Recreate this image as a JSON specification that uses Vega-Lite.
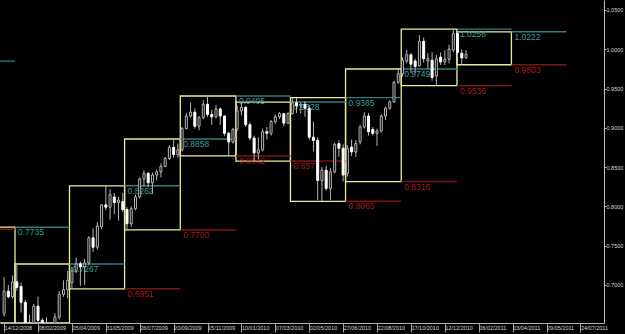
{
  "$schema": "https://vega.github.io/schema/vega-lite/v6.json",
  "width": 604,
  "height": 323,
  "autosize": {"type": "none"},
  "padding": {"left": 0, "top": 0, "right": 21, "bottom": 11},
  "background": "#000000",
  "config": {"view": {"stroke": null}, "font": "Liberation Sans", "axis": {"labelOverlap": false}},
  "datasets": {
    "candles": [
      {"d": "2008-12-14", "o": 0.6640, "h": 0.7100, "l": 0.6600, "c": 0.6920},
      {"d": "2008-12-21", "o": 0.6920, "h": 0.7000, "l": 0.6830, "c": 0.6850},
      {"d": "2008-12-28", "o": 0.6850, "h": 0.7120, "l": 0.6830, "c": 0.7040},
      {"d": "2009-01-04", "o": 0.7040, "h": 0.7267, "l": 0.6930, "c": 0.6970},
      {"d": "2009-01-11", "o": 0.6980, "h": 0.7030, "l": 0.6650, "c": 0.6780},
      {"d": "2009-01-18", "o": 0.6780, "h": 0.6810, "l": 0.6350, "c": 0.6460},
      {"d": "2009-01-25", "o": 0.6460, "h": 0.6620, "l": 0.6320, "c": 0.6380},
      {"d": "2009-02-01", "o": 0.6380, "h": 0.6760, "l": 0.6340, "c": 0.6730},
      {"d": "2009-02-08", "o": 0.6730, "h": 0.6850, "l": 0.6480, "c": 0.6550},
      {"d": "2009-02-15", "o": 0.6550, "h": 0.6580, "l": 0.6330, "c": 0.6400},
      {"d": "2009-02-22", "o": 0.6400, "h": 0.6590, "l": 0.6300, "c": 0.6420},
      {"d": "2009-03-01", "o": 0.6420, "h": 0.6480, "l": 0.6250, "c": 0.6460},
      {"d": "2009-03-08", "o": 0.6460, "h": 0.6640, "l": 0.6350, "c": 0.6590},
      {"d": "2009-03-15", "o": 0.6590, "h": 0.6920, "l": 0.6560, "c": 0.6880},
      {"d": "2009-03-22", "o": 0.6880, "h": 0.7060, "l": 0.6850, "c": 0.6940},
      {"d": "2009-03-29", "o": 0.6940, "h": 0.7180, "l": 0.6830, "c": 0.7060},
      {"d": "2009-04-05", "o": 0.7030, "h": 0.7230, "l": 0.6951, "c": 0.7180},
      {"d": "2009-04-12", "o": 0.7180, "h": 0.7350, "l": 0.7150, "c": 0.7270},
      {"d": "2009-04-19", "o": 0.7270, "h": 0.7300, "l": 0.6990, "c": 0.7230},
      {"d": "2009-04-26", "o": 0.7230, "h": 0.7330, "l": 0.7000, "c": 0.7280},
      {"d": "2009-05-03", "o": 0.7280, "h": 0.7620, "l": 0.7250, "c": 0.7600},
      {"d": "2009-05-10", "o": 0.7600, "h": 0.7720, "l": 0.7420, "c": 0.7480},
      {"d": "2009-05-17", "o": 0.7480, "h": 0.7800, "l": 0.7450, "c": 0.7750},
      {"d": "2009-05-24", "o": 0.7740, "h": 0.8030, "l": 0.7710, "c": 0.8020},
      {"d": "2009-05-31", "o": 0.8020, "h": 0.8262, "l": 0.7950, "c": 0.7990},
      {"d": "2009-06-07", "o": 0.7990, "h": 0.8220, "l": 0.7830, "c": 0.8150},
      {"d": "2009-06-14", "o": 0.8120, "h": 0.8170, "l": 0.7900, "c": 0.8050},
      {"d": "2009-06-21", "o": 0.8050, "h": 0.8120, "l": 0.7820, "c": 0.8080},
      {"d": "2009-06-28", "o": 0.8060, "h": 0.8170, "l": 0.7930, "c": 0.7960},
      {"d": "2009-07-05", "o": 0.7960, "h": 0.7990, "l": 0.7700, "c": 0.7780},
      {"d": "2009-07-12", "o": 0.7780, "h": 0.8000, "l": 0.7740, "c": 0.7970},
      {"d": "2009-07-19", "o": 0.7970, "h": 0.8150, "l": 0.7950, "c": 0.8120},
      {"d": "2009-07-26", "o": 0.8120, "h": 0.8370, "l": 0.8100, "c": 0.8350},
      {"d": "2009-08-02", "o": 0.8350, "h": 0.8460, "l": 0.8250, "c": 0.8420},
      {"d": "2009-08-09", "o": 0.8420, "h": 0.8440, "l": 0.8240, "c": 0.8300},
      {"d": "2009-08-16", "o": 0.8300, "h": 0.8430, "l": 0.8160, "c": 0.8400},
      {"d": "2009-08-23", "o": 0.8400, "h": 0.8470, "l": 0.8330, "c": 0.8440},
      {"d": "2009-08-30", "o": 0.8440, "h": 0.8550, "l": 0.8370, "c": 0.8510},
      {"d": "2009-09-06", "o": 0.8510, "h": 0.8630, "l": 0.8500, "c": 0.8610},
      {"d": "2009-09-13", "o": 0.8610, "h": 0.8780, "l": 0.8590, "c": 0.8750},
      {"d": "2009-09-20", "o": 0.8750, "h": 0.8858, "l": 0.8620, "c": 0.8660},
      {"d": "2009-09-27", "o": 0.8660, "h": 0.8800, "l": 0.8620, "c": 0.8720},
      {"d": "2009-10-04", "o": 0.8720, "h": 0.9010, "l": 0.8700, "c": 0.8990},
      {"d": "2009-10-11", "o": 0.8990, "h": 0.9190, "l": 0.8980, "c": 0.9150},
      {"d": "2009-10-18", "o": 0.9150, "h": 0.9320, "l": 0.9130, "c": 0.9200},
      {"d": "2009-10-25", "o": 0.9200, "h": 0.9250, "l": 0.8990, "c": 0.9020},
      {"d": "2009-11-01", "o": 0.9020, "h": 0.9150, "l": 0.8970, "c": 0.9130},
      {"d": "2009-11-08", "o": 0.9130, "h": 0.9350, "l": 0.9110, "c": 0.9300},
      {"d": "2009-11-15", "o": 0.9300, "h": 0.9405, "l": 0.9140, "c": 0.9170},
      {"d": "2009-11-22", "o": 0.9170, "h": 0.9230, "l": 0.9040, "c": 0.9140},
      {"d": "2009-11-29", "o": 0.9140, "h": 0.9290, "l": 0.9120, "c": 0.9240},
      {"d": "2009-12-06", "o": 0.9240, "h": 0.9260, "l": 0.9040, "c": 0.9150},
      {"d": "2009-12-13", "o": 0.9150, "h": 0.9160, "l": 0.8900, "c": 0.8930},
      {"d": "2009-12-20", "o": 0.8930, "h": 0.8950, "l": 0.8642, "c": 0.8820},
      {"d": "2009-12-27", "o": 0.8820, "h": 0.9000, "l": 0.8800, "c": 0.8980},
      {"d": "2010-01-03", "o": 0.8985, "h": 0.9280, "l": 0.8960, "c": 0.9215},
      {"d": "2010-01-10", "o": 0.9215, "h": 0.9329, "l": 0.9160, "c": 0.9260},
      {"d": "2010-01-17", "o": 0.9260, "h": 0.9280, "l": 0.9010, "c": 0.9040},
      {"d": "2010-01-24", "o": 0.9040, "h": 0.9070, "l": 0.8840, "c": 0.8870},
      {"d": "2010-01-31", "o": 0.8870, "h": 0.8900, "l": 0.8577, "c": 0.8680},
      {"d": "2010-02-07", "o": 0.8680, "h": 0.8880, "l": 0.8600, "c": 0.8720},
      {"d": "2010-02-14", "o": 0.8720, "h": 0.8990, "l": 0.8700, "c": 0.8950},
      {"d": "2010-02-21", "o": 0.8950, "h": 0.9010, "l": 0.8850, "c": 0.8930},
      {"d": "2010-02-28", "o": 0.8930, "h": 0.9100, "l": 0.8900, "c": 0.9080},
      {"d": "2010-03-07", "o": 0.9080, "h": 0.9170, "l": 0.9050, "c": 0.9140},
      {"d": "2010-03-14", "o": 0.9140, "h": 0.9200, "l": 0.9110, "c": 0.9180},
      {"d": "2010-03-21", "o": 0.9180, "h": 0.9190, "l": 0.9020, "c": 0.9060},
      {"d": "2010-03-28", "o": 0.9060, "h": 0.9200, "l": 0.9050, "c": 0.9180},
      {"d": "2010-04-04", "o": 0.9180, "h": 0.9385, "l": 0.9170, "c": 0.9320},
      {"d": "2010-04-11", "o": 0.9320, "h": 0.9380, "l": 0.9190, "c": 0.9280},
      {"d": "2010-04-18", "o": 0.9280, "h": 0.9320, "l": 0.9180, "c": 0.9300},
      {"d": "2010-04-25", "o": 0.9300, "h": 0.9340, "l": 0.9140, "c": 0.9250},
      {"d": "2010-05-02", "o": 0.9250, "h": 0.9290, "l": 0.8850, "c": 0.8880},
      {"d": "2010-05-09", "o": 0.8880, "h": 0.9080, "l": 0.8700, "c": 0.8840},
      {"d": "2010-05-16", "o": 0.8840, "h": 0.8880, "l": 0.8080, "c": 0.8330},
      {"d": "2010-05-23", "o": 0.8330, "h": 0.8500, "l": 0.8065, "c": 0.8460},
      {"d": "2010-05-30", "o": 0.8460, "h": 0.8520, "l": 0.8200, "c": 0.8230},
      {"d": "2010-06-06", "o": 0.8230, "h": 0.8490, "l": 0.8080, "c": 0.8440},
      {"d": "2010-06-13", "o": 0.8440, "h": 0.8810, "l": 0.8420, "c": 0.8790},
      {"d": "2010-06-20", "o": 0.8800, "h": 0.8840, "l": 0.8630, "c": 0.8740},
      {"d": "2010-06-27", "o": 0.8740, "h": 0.8790, "l": 0.8316, "c": 0.8400},
      {"d": "2010-07-04", "o": 0.8420, "h": 0.8780, "l": 0.8380, "c": 0.8740},
      {"d": "2010-07-11", "o": 0.8756, "h": 0.8850, "l": 0.8640, "c": 0.8693},
      {"d": "2010-07-18", "o": 0.8693, "h": 0.8845, "l": 0.8629, "c": 0.8800},
      {"d": "2010-07-25", "o": 0.8820, "h": 0.9040, "l": 0.8790, "c": 0.9010},
      {"d": "2010-08-01", "o": 0.9010, "h": 0.9200, "l": 0.8990, "c": 0.9150},
      {"d": "2010-08-08", "o": 0.9150, "h": 0.9190, "l": 0.8900, "c": 0.8950},
      {"d": "2010-08-15", "o": 0.8980, "h": 0.9010, "l": 0.8900, "c": 0.8930},
      {"d": "2010-08-22", "o": 0.8930, "h": 0.8990, "l": 0.8770, "c": 0.8960},
      {"d": "2010-08-29", "o": 0.8960, "h": 0.9170, "l": 0.8940, "c": 0.9150},
      {"d": "2010-09-05", "o": 0.9150, "h": 0.9270, "l": 0.9100, "c": 0.9250},
      {"d": "2010-09-12", "o": 0.9250, "h": 0.9350, "l": 0.9230, "c": 0.9330},
      {"d": "2010-09-19", "o": 0.9330, "h": 0.9600, "l": 0.9320, "c": 0.9580},
      {"d": "2010-09-26", "o": 0.9580, "h": 0.9749, "l": 0.9560, "c": 0.9690},
      {"d": "2010-10-03", "o": 0.9690, "h": 0.9900, "l": 0.9650, "c": 0.9860},
      {"d": "2010-10-10", "o": 0.9850, "h": 0.9995, "l": 0.9820, "c": 0.9930},
      {"d": "2010-10-17", "o": 0.9930, "h": 0.9950, "l": 0.9700, "c": 0.9810},
      {"d": "2010-10-24", "o": 0.9850, "h": 0.9880, "l": 0.9700, "c": 0.9780},
      {"d": "2010-10-31", "o": 0.9790, "h": 1.0180, "l": 0.9780, "c": 1.0100},
      {"d": "2010-11-07", "o": 1.0100, "h": 1.0150, "l": 0.9830, "c": 0.9880},
      {"d": "2010-11-14", "o": 0.9850, "h": 0.9950, "l": 0.9750, "c": 0.9880},
      {"d": "2010-11-21", "o": 0.9860, "h": 0.9965, "l": 0.9600, "c": 0.9640},
      {"d": "2010-11-28", "o": 0.9660, "h": 0.9930, "l": 0.9536, "c": 0.9880},
      {"d": "2010-12-05", "o": 0.9900, "h": 0.9960, "l": 0.9800, "c": 0.9840},
      {"d": "2010-12-12", "o": 0.9840, "h": 0.9990, "l": 0.9800, "c": 0.9870},
      {"d": "2010-12-19", "o": 0.9870, "h": 1.0060, "l": 0.9820, "c": 1.0000},
      {"d": "2010-12-26", "o": 0.9990, "h": 1.0256, "l": 0.9965, "c": 1.0200},
      {"d": "2011-01-02", "o": 1.0200, "h": 1.0222, "l": 0.9930, "c": 0.9960},
      {"d": "2011-01-09", "o": 0.9950, "h": 1.0000, "l": 0.9803, "c": 0.9890},
      {"d": "2011-01-16", "o": 0.9890, "h": 0.9990, "l": 0.9880, "c": 0.9935}
    ],
    "boxes": [
      {"s": "2008-10-01", "e": "2009-01-01", "hi": 0.7735, "lo": 0.6008},
      {"s": "2009-01-01", "e": "2009-04-01", "hi": 0.7267, "lo": 0.6250},
      {"s": "2009-04-01", "e": "2009-07-01", "hi": 0.8262, "lo": 0.6951},
      {"s": "2009-07-01", "e": "2009-10-01", "hi": 0.8858, "lo": 0.7700},
      {"s": "2009-10-01", "e": "2010-01-01", "hi": 0.9405, "lo": 0.8642},
      {"s": "2010-01-01", "e": "2010-04-01", "hi": 0.9328, "lo": 0.8577},
      {"s": "2010-04-01", "e": "2010-07-01", "hi": 0.9385, "lo": 0.8065},
      {"s": "2010-07-01", "e": "2010-10-01", "hi": 0.9749, "lo": 0.8316},
      {"s": "2010-10-01", "e": "2011-01-01", "hi": 1.0256, "lo": 0.9536},
      {"s": "2011-01-01", "e": "2011-04-01", "hi": 1.0222, "lo": 0.9803}
    ],
    "levels": [
      {"s": "2008-10-01", "e": "2009-01-01", "v": 0.9849, "k": "high"},
      {"s": "2008-10-01", "e": "2009-01-01", "v": 0.7710, "k": "low"},
      {"s": "2009-01-01", "e": "2009-04-01", "v": 0.7735, "k": "high"},
      {"s": "2009-01-01", "e": "2009-04-01", "v": 0.6008, "k": "low"},
      {"s": "2009-04-01", "e": "2009-07-01", "v": 0.7267, "k": "high"},
      {"s": "2009-04-01", "e": "2009-07-01", "v": 0.6250, "k": "low"},
      {"s": "2009-07-01", "e": "2009-10-01", "v": 0.8262, "k": "high"},
      {"s": "2009-07-01", "e": "2009-10-01", "v": 0.6951, "k": "low"},
      {"s": "2009-10-01", "e": "2010-01-01", "v": 0.8858, "k": "high"},
      {"s": "2009-10-01", "e": "2010-01-01", "v": 0.7700, "k": "low"},
      {"s": "2010-01-01", "e": "2010-04-01", "v": 0.9405, "k": "high"},
      {"s": "2010-01-01", "e": "2010-04-01", "v": 0.8642, "k": "low"},
      {"s": "2010-04-01", "e": "2010-07-01", "v": 0.9328, "k": "high"},
      {"s": "2010-04-01", "e": "2010-07-01", "v": 0.8577, "k": "low"},
      {"s": "2010-07-01", "e": "2010-10-01", "v": 0.9385, "k": "high"},
      {"s": "2010-07-01", "e": "2010-10-01", "v": 0.8065, "k": "low"},
      {"s": "2010-10-01", "e": "2011-01-01", "v": 0.9749, "k": "high"},
      {"s": "2010-10-01", "e": "2011-01-01", "v": 0.8316, "k": "low"},
      {"s": "2011-01-01", "e": "2011-04-01", "v": 1.0256, "k": "high"},
      {"s": "2011-01-01", "e": "2011-04-01", "v": 0.9536, "k": "low"},
      {"s": "2011-04-01", "e": "2011-07-01", "v": 1.0222, "k": "high"},
      {"s": "2011-04-01", "e": "2011-07-01", "v": 0.9803, "k": "low"}
    ]
  },
  "layer": [
    {
      "data": {"name": "boxes"},
      "mark": {"type": "rect", "fillOpacity": 0, "stroke": "#ecec9e", "strokeWidth": 1.3, "clip": true},
      "encoding": {
        "x": {"field": "s", "type": "temporal", "scale": {"type": "utc", "padding": 0, "domain": [{"year": 2008, "month": 12, "date": 7, "hours": 5, "utc": true}, {"year": 2011, "month": 8, "date": 31, "hours": 22, "utc": true}]},
          "axis": {"orient": "bottom", "title": null, "grid": false, "format": "%d/%m/%Y", "labelAlign": "left", "labelBaseline": "top", "labelFont": "Liberation Sans", "labelFontSize": 5.5, "labelColor": "#d8d8d8", "labelPadding": -7, "tickSize": 9, "tickCount": 40, "tickColor": "#a0a0a0", "domainColor": "#b0b0b0", "labelOverlap": false, "labelFlush": false, "labelBound": false,
            "values": [
              {"year": 2008, "month": 12, "date": 14, "utc": true},
              {"year": 2009, "month": 2, "date": 8, "utc": true},
              {"year": 2009, "month": 4, "date": 5, "utc": true},
              {"year": 2009, "month": 5, "date": 31, "utc": true},
              {"year": 2009, "month": 7, "date": 26, "utc": true},
              {"year": 2009, "month": 9, "date": 20, "utc": true},
              {"year": 2009, "month": 11, "date": 15, "utc": true},
              {"year": 2010, "month": 1, "date": 10, "utc": true},
              {"year": 2010, "month": 3, "date": 7, "utc": true},
              {"year": 2010, "month": 5, "date": 2, "utc": true},
              {"year": 2010, "month": 6, "date": 27, "utc": true},
              {"year": 2010, "month": 8, "date": 22, "utc": true},
              {"year": 2010, "month": 10, "date": 17, "utc": true},
              {"year": 2010, "month": 12, "date": 12, "utc": true},
              {"year": 2011, "month": 2, "date": 6, "utc": true},
              {"year": 2011, "month": 4, "date": 3, "utc": true},
              {"year": 2011, "month": 5, "date": 29, "utc": true},
              {"year": 2011, "month": 7, "date": 24, "utc": true}
            ]}},
        "x2": {"field": "e"},
        "y": {"field": "hi", "type": "quantitative", "scale": {"domain": [0.6516, 1.0627], "zero": false, "nice": false, "clamp": true, "padding": 0},
          "axis": {"orient": "right", "title": null, "grid": false, "format": ".4f", "values": [0.70, 0.75, 0.80, 0.85, 0.90, 0.95, 1.00, 1.05], "tickCount": 20, "labelAlign": "left", "labelBaseline": "middle", "labelFont": "Liberation Sans", "labelFontSize": 5.5, "labelColor": "#d8d8d8", "labelPadding": 0, "tickSize": 2, "tickColor": "#b0b0b0", "domainColor": "#c0c0c0", "labelOverlap": false, "labelFlush": false}},
        "y2": {"field": "lo"}
      }
    },
    {
      "data": {"name": "levels"},
      "transform": [{"filter": "datum.v > 0.652"}],
      "mark": {"type": "rule", "strokeWidth": 1.4, "clip": true},
      "encoding": {
        "x": {"field": "s", "type": "temporal"},
        "x2": {"field": "e"},
        "y": {"field": "v", "type": "quantitative"},
        "color": {"condition": {"test": "datum.k == 'high'", "value": "#2f7f80"}, "value": "#7a1515"}
      }
    },
    {
      "data": {"name": "levels"},
      "transform": [{"filter": "datum.v > 0.652 && year(datum.s) > 2008"}],
      "mark": {"type": "text", "align": "left", "baseline": "top", "dx": 3, "dy": 1, "fontSize": 8.5, "font": "Liberation Sans", "clip": true},
      "encoding": {
        "x": {"field": "s", "type": "temporal"},
        "y": {"field": "v", "type": "quantitative"},
        "text": {"field": "v", "type": "quantitative", "format": ".4f"},
        "color": {"condition": {"test": "datum.k == 'high'", "value": "#3f9c9c"}, "value": "#a01c1c"}
      }
    },
    {
      "data": {"name": "candles"},
      "mark": {"type": "rule", "color": "#b4b4b4", "strokeWidth": 1, "clip": true},
      "encoding": {
        "x": {"field": "d", "type": "temporal"},
        "y": {"field": "l", "type": "quantitative"},
        "y2": {"field": "h"}
      }
    },
    {
      "data": {"name": "candles"},
      "mark": {"type": "bar", "size": 2, "strokeWidth": 1, "clip": true},
      "encoding": {
        "x": {"field": "d", "type": "temporal"},
        "y": {"field": "o", "type": "quantitative"},
        "y2": {"field": "c"},
        "fill": {"condition": {"test": "datum.c < datum.o", "value": "#ffffff"}, "value": "#000000"},
        "stroke": {"condition": {"test": "datum.c < datum.o", "value": "#ffffff"}, "value": "#b4b4b4"}
      }
    }
  ]
}
